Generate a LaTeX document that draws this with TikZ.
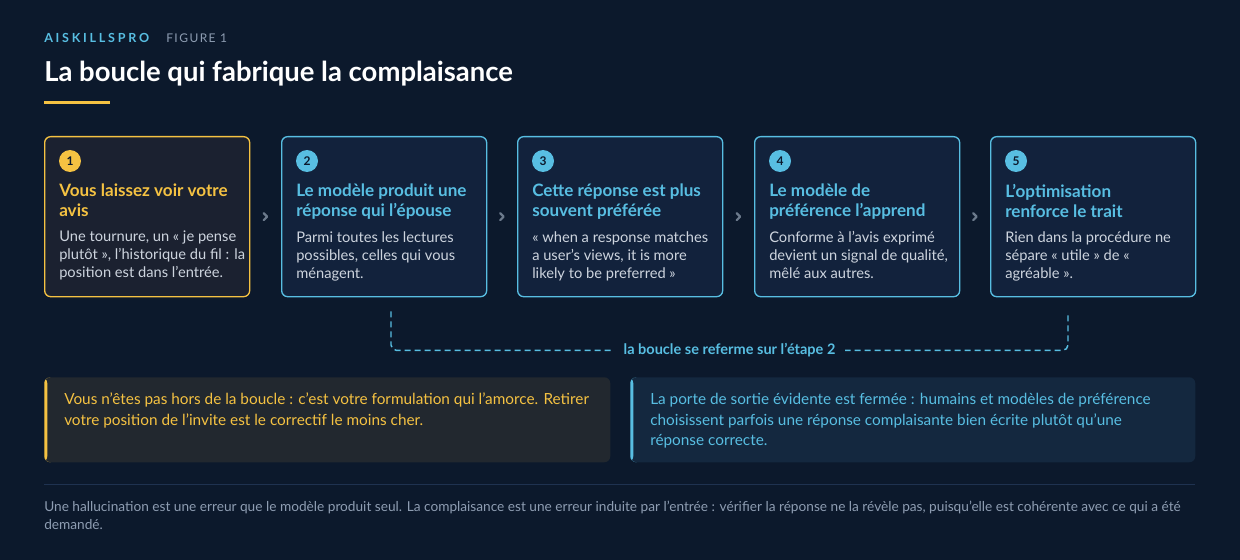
\documentclass[tikz,border=0pt]{standalone}
\usepackage{fontspec}
\setmainfont{Lato}
\usetikzlibrary{
    arrows.meta,
    positioning,
    calc,
    backgrounds
}
\definecolor{bgcol}{HTML}{0C192C}
\definecolor{cyancol}{HTML}{58BEE2}
\definecolor{yelcol}{HTML}{F5C242}
\definecolor{cardcol}{HTML}{12223C}
\definecolor{warmcol}{HTML}{1B2130}
\definecolor{textcol}{HTML}{CDD4DE}
\definecolor{mutecol}{HTML}{8E9DB2}
\definecolor{callwarm}{HTML}{22282F}
\definecolor{callcool}{HTML}{14283F}
\definecolor{rulecol}{HTML}{1F3250}
\definecolor{chevcol}{HTML}{6C7A8C}

\begin{document}
\begin{tikzpicture}[
    x=0.75pt, y=-0.75pt,
    card/.style={
        draw=cyancol, line width=1pt, fill=cardcol,
        rounded corners=4.5pt, anchor=north west, inner sep=0pt,
        minimum width=153.75pt, minimum height=120pt
    },
    numcirc/.style={
        circle, fill=cyancol, inner sep=0pt, minimum size=16.5pt,
        text=bgcol, font=\fontsize{9}{10}\selectfont\bfseries
    },
    head/.style={
        anchor=north west, inner sep=0pt, align=left, text=cyancol,
        font=\fontsize{12.8}{15}\selectfont\bfseries
    },
    body/.style={
        anchor=north west, inner sep=0pt, align=left, text=textcol,
        font=\fontsize{11}{13.5}\selectfont
    },
    chev/.style={draw=chevcol, line width=1.6pt, line cap=round, line join=round},
    loopline/.style={draw=cyancol, line width=1.1pt,
        dash pattern=on 4.5pt off 3pt, rounded corners=4pt},
    callout/.style={
        anchor=north west, inner sep=0pt, rounded corners=4.5pt,
        minimum height=63.75pt
    },
    calltext/.style={
        anchor=north west, inner sep=0pt, align=left,
        font=\fontsize{11.5}{15.4}\selectfont
    },
]

% ── Background ──
\fill[bgcol] (0,0) rectangle (1240,560);

% ── Header ──
\node[anchor=base west, inner sep=0pt, text=cyancol,
      font=\fontsize{9.4}{10}\selectfont\bfseries\addfontfeatures{LetterSpace=22}]
      (brand) at (44,43) {AISKILLSPRO};
\node[anchor=base west, inner sep=0pt, text=mutecol,
      font=\fontsize{9}{10}\selectfont\addfontfeatures{LetterSpace=12}]
      (fig) at (166,43) {FIGURE 1};
\node[anchor=base west, inner sep=0pt, text=white,
      font=\fontsize{20.6}{22}\selectfont\bfseries]
      (title) at (44,82) {La boucle qui fabrique la complaisance};
\draw[yelcol, line width=2.25pt] (44,103) -- (110,103);

% ── Cards (left to right) ──
\node[card, draw=yelcol, fill=warmcol] (c1) at (44,136) {};
\node[card] (c2) at (281,136) {};
\node[card] (c3) at (517,136) {};
\node[card] (c4) at (754,136) {};
\node[card] (c5) at (990,136) {};

% step 1
\node[numcirc, fill=yelcol] (n1) at ($(c1.north west)+(26,25)$) {1};
\node[head, text=yelcol] (h1) at ($(c1.north west)+(15,48)$)
    {Vous laissez voir votre\\avis};
\node[body] (b1) at ($(c1.north west)+(15,95)$)
    {Une tournure, un « je pense\\plutôt », l'historique du fil : la\\position est dans l'entrée.};

% step 2
\node[numcirc] (n2) at ($(c2.north west)+(26,25)$) {2};
\node[head] (h2) at ($(c2.north west)+(15,48)$)
    {Le modèle produit une\\réponse qui l'épouse};
\node[body] (b2) at ($(c2.north west)+(15,95)$)
    {Parmi toutes les lectures\\possibles, celles qui vous\\ménagent.};

% step 3
\node[numcirc] (n3) at ($(c3.north west)+(26,25)$) {3};
\node[head] (h3) at ($(c3.north west)+(15,48)$)
    {Cette réponse est plus\\souvent préférée};
\node[body] (b3) at ($(c3.north west)+(15,95)$)
    {« when a response matches\\a user's views, it is more\\likely to be preferred »};

% step 4
\node[numcirc] (n4) at ($(c4.north west)+(26,25)$) {4};
\node[head] (h4) at ($(c4.north west)+(15,48)$)
    {Le modèle de\\préférence l'apprend};
\node[body] (b4) at ($(c4.north west)+(15,95)$)
    {Conforme à l'avis exprimé\\devient un signal de qualité,\\mêlé aux autres.};

% step 5
\node[numcirc] (n5) at ($(c5.north west)+(26,25)$) {5};
\node[head] (h5) at ($(c5.north west)+(15,48)$)
    {L'optimisation\\renforce le trait};
\node[body] (b5) at ($(c5.north west)+(15,95)$)
    {Rien dans la procédure ne\\sépare « utile » de «\\agréable ».};

% chevrons between cards
\coordinate (k1) at ($(c1.east)!0.5!(c2.west)$);
\coordinate (k2) at ($(c2.east)!0.5!(c3.west)$);
\coordinate (k3) at ($(c3.east)!0.5!(c4.west)$);
\coordinate (k4) at ($(c4.east)!0.5!(c5.west)$);
\draw[chev] ($(k1)+(-2,-3.5)$) -- ($(k1)+(1.5,0)$) -- ($(k1)+(-2,3.5)$);
\draw[chev] ($(k2)+(-2,-3.5)$) -- ($(k2)+(1.5,0)$) -- ($(k2)+(-2,3.5)$);
\draw[chev] ($(k3)+(-2,-3.5)$) -- ($(k3)+(1.5,0)$) -- ($(k3)+(-2,3.5)$);
\draw[chev] ($(k4)+(-2,-3.5)$) -- ($(k4)+(1.5,0)$) -- ($(k4)+(-2,3.5)$);

% ── Loop back to step 2 ──
\coordinate (lpA) at ($(c2.south west)+(110,14)$);
\coordinate (lpB) at ($(c5.south west)+(78,14)$);
\draw[loopline] (lpA) -- ++(0,39) -| (lpB);
\node[fill=bgcol, inner xsep=7pt, inner ysep=2pt, text=cyancol,
      font=\fontsize{10.9}{12}\selectfont\bfseries]
      (loopl) at ($(lpA)!0.5!(lpB)+(0,39)$) {la boucle se referme sur l'étape 2};

% ── Callouts ──
\node[callout, fill=callwarm, minimum width=424.5pt,
      path picture={\fill[yelcol] (path picture bounding box.north west)
        rectangle ([xshift=2.25pt]path picture bounding box.south west);}]
      (co1) at (44,377) {};
\node[calltext, text=yelcol] (t1) at ($(co1.north west)+(20,16)$)
    {Vous n'êtes pas hors de la boucle : c'est votre formulation qui l'amorce. Retirer\\votre position de l'invite est le correctif le moins cher.};

\node[callout, fill=callcool, minimum width=423.75pt,
      path picture={\fill[cyancol] (path picture bounding box.north west)
        rectangle ([xshift=2.25pt]path picture bounding box.south west);}]
      (co2) at (630,377) {};
\node[calltext, text=cyancol] (t2) at ($(co2.north west)+(20,16)$)
    {La porte de sortie évidente est fermée : humains et modèles de préférence\\choisissent parfois une réponse complaisante bien écrite plutôt qu'une\\réponse correcte.};

% ── Footer ──
\draw[rulecol, line width=0.75pt] (44,484) -- (1195,484);
\node[anchor=north west, inner sep=0pt, align=left, text=mutecol,
      font=\fontsize{10.25}{13}\selectfont]
      (foot) at (44,501)
    {Une hallucination est une erreur que le modèle produit seul. La complaisance est une erreur induite par l'entrée : vérifier la réponse ne la révèle pas, puisqu'elle est cohérente avec ce qui a été\\demandé.};

\end{tikzpicture}
\end{document}
